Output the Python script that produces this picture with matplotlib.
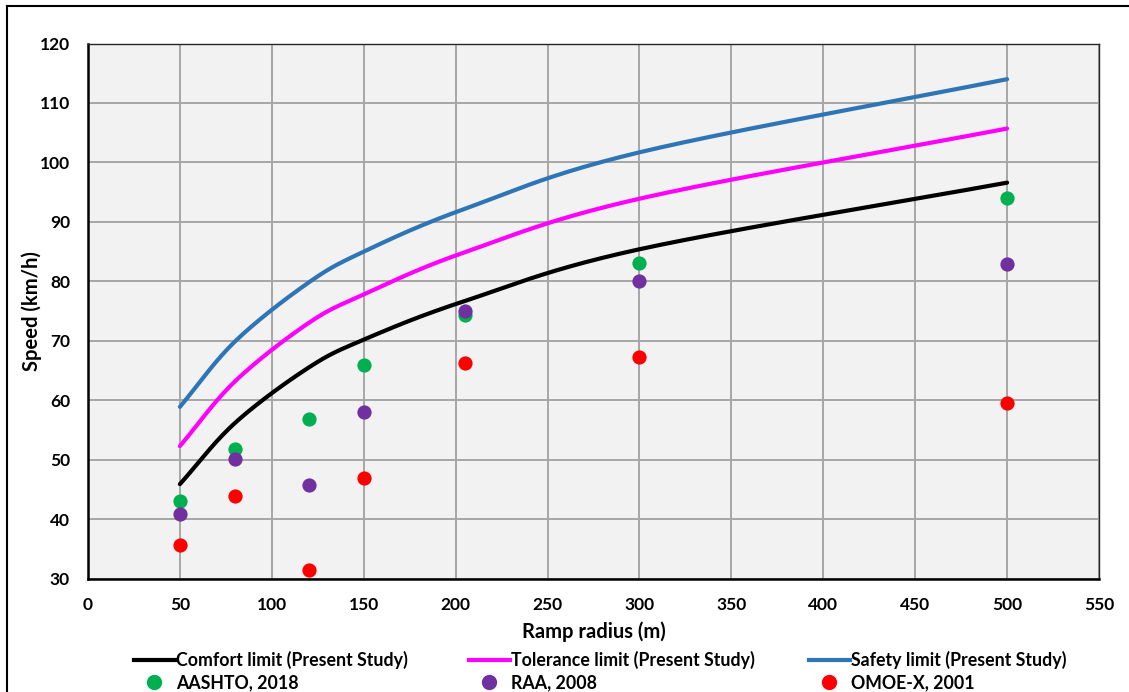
import numpy as np
import matplotlib
matplotlib.use("Agg")
import matplotlib.pyplot as plt
from matplotlib.lines import Line2D

plt.rcParams['font.family'] = ['Lato', 'DejaVu Sans']
plt.rcParams['font.weight'] = 'bold'

# ---- data ----
radius = [50, 80, 120, 150, 205, 300, 500]
comfort = [45.9, 56.2, 65.5, 70.2, 76.7, 85.4, 96.6]
tolerance = [52.3, 63.2, 73.0, 77.8, 84.9, 93.9, 105.7]
safety = [58.9, 69.9, 79.8, 85.0, 92.2, 101.7, 114.0]

aashto = [43.0, 51.8, 56.8, 66.0, 74.3, 83.1, 94.0]
raa = [40.8, 50.2, 45.7, 58.1, 75.0, 80.1, 83.0]
omoe = [35.6, 43.9, 31.5, 46.9, 66.2, 67.2, 59.5]

x_ticks = list(range(0, 551, 50))
y_ticks = list(range(30, 121, 10))


def smooth(xs, ys, n=40, sx=550.0, sy=90.0):
    """Catmull-Rom smoothing (like Excel's smoothed line) through the points."""
    P = np.column_stack([np.asarray(xs, float) / sx, np.asarray(ys, float) / sy])
    P = np.vstack([P[0] * 2 - P[1], P, P[-1] * 2 - P[-2]])
    out = []
    for i in range(1, len(P) - 2):
        p0, p1, p2, p3 = P[i - 1], P[i], P[i + 1], P[i + 2]
        c1 = p1 + (p2 - p0) / 6.0
        c2 = p2 - (p3 - p1) / 6.0
        t = np.linspace(0, 1, n)[:, None]
        seg = ((1 - t) ** 3) * p1 + 3 * ((1 - t) ** 2) * t * c1 + 3 * (1 - t) * t ** 2 * c2 + t ** 3 * p2
        out.append(seg if i == 1 else seg[1:])
    out = np.vstack(out)
    return out[:, 0] * sx, out[:, 1] * sy


fig = plt.figure(figsize=(11.29, 6.92), dpi=100)
W, H = 1129, 692
ax = fig.add_axes([88 / W, 1 - 578.7 / H, (1099 - 88) / W, (578.7 - 43.5) / H])
ax.set_facecolor('#F2F2F2')

lw = 3.0
for ys, col, lab in [(comfort, '#000000', 'Comfort limit (Present Study)'),
                     (tolerance, '#FF00FF', 'Tolerance limit (Present Study)'),
                     (safety, '#2E75B6', 'Safety limit (Present Study)')]:
    sxv, syv = smooth(radius, ys)
    ax.plot(sxv, syv, color=col, lw=lw, solid_capstyle='round', zorder=3, label=lab)

ms = 105
ax.scatter(radius, aashto, s=ms, color='#00B050', zorder=4, linewidths=0, label='AASHTO, 2018')
ax.scatter(radius, raa, s=ms, color='#7030A0', zorder=4, linewidths=0, label='RAA, 2008')
ax.scatter(radius, omoe, s=ms, color='#FF0000', zorder=4, linewidths=0, label='OMOE-X, 2001')

ax.set_xlim(0, 550)
ax.set_ylim(30, 120)
ax.set_xticks(x_ticks)
ax.set_yticks(y_ticks)
ax.grid(True, color='#A6A6A6', lw=1.4, zorder=1)
ax.set_axisbelow(True)
ax.tick_params(axis='x', length=0, labelsize=12.5, pad=13)
ax.tick_params(axis='y', length=0, labelsize=12.5, pad=13)
for lbl in ax.get_xticklabels() + ax.get_yticklabels():
    lbl.set_fontweight('bold')

for s in ['left', 'bottom']:
    ax.spines[s].set_color('black')
    ax.spines[s].set_linewidth(1.8)
for s in ['top', 'right']:
    ax.spines[s].set_color('#262626')
    ax.spines[s].set_linewidth(1.0)

ax.set_xlabel('Ramp radius (m)', fontsize=14.5, fontweight='bold', labelpad=6)
ax.set_ylabel('Speed (km/h)', fontsize=14.5, fontweight='bold', labelpad=-2)

# legend: three columns of two entries
cols = [
    (Line2D([], [], color='#000000', lw=lw), 'Comfort limit (Present Study)',
     Line2D([], [], ls='', marker='o', ms=10, color='#00B050'), 'AASHTO, 2018', 134),
    (Line2D([], [], color='#FF00FF', lw=lw), 'Tolerance limit (Present Study)',
     Line2D([], [], ls='', marker='o', ms=10, color='#7030A0'), 'RAA, 2008', 469),
    (Line2D([], [], color='#2E75B6', lw=lw), 'Safety limit (Present Study)',
     Line2D([], [], ls='', marker='o', ms=10, color='#FF0000'), 'OMOE-X, 2001', 809),
]
for h1, t1, h2, t2, xpx in cols:
    fig.legend([h1, h2], [t1, t2], loc='upper left',
               bbox_to_anchor=(xpx / W, 1 - 651 / H), frameon=False,
               handlelength=2.3, handletextpad=0.05,
               borderaxespad=0, borderpad=0, labelspacing=0.3,
               prop={'weight': 'bold', 'size': 12.8})

# outer frame (top and left visible in the reference)
fig.add_artist(Line2D([6.5 / W, 6.5 / W], [0, 1 - 5.5 / H], color='black', lw=1.5,
                      transform=fig.transFigure))
fig.add_artist(Line2D([6.5 / W, 1], [1 - 5.5 / H, 1 - 5.5 / H], color='black', lw=1.5,
                      transform=fig.transFigure))

fig.savefig('out.png', dpi=100)
